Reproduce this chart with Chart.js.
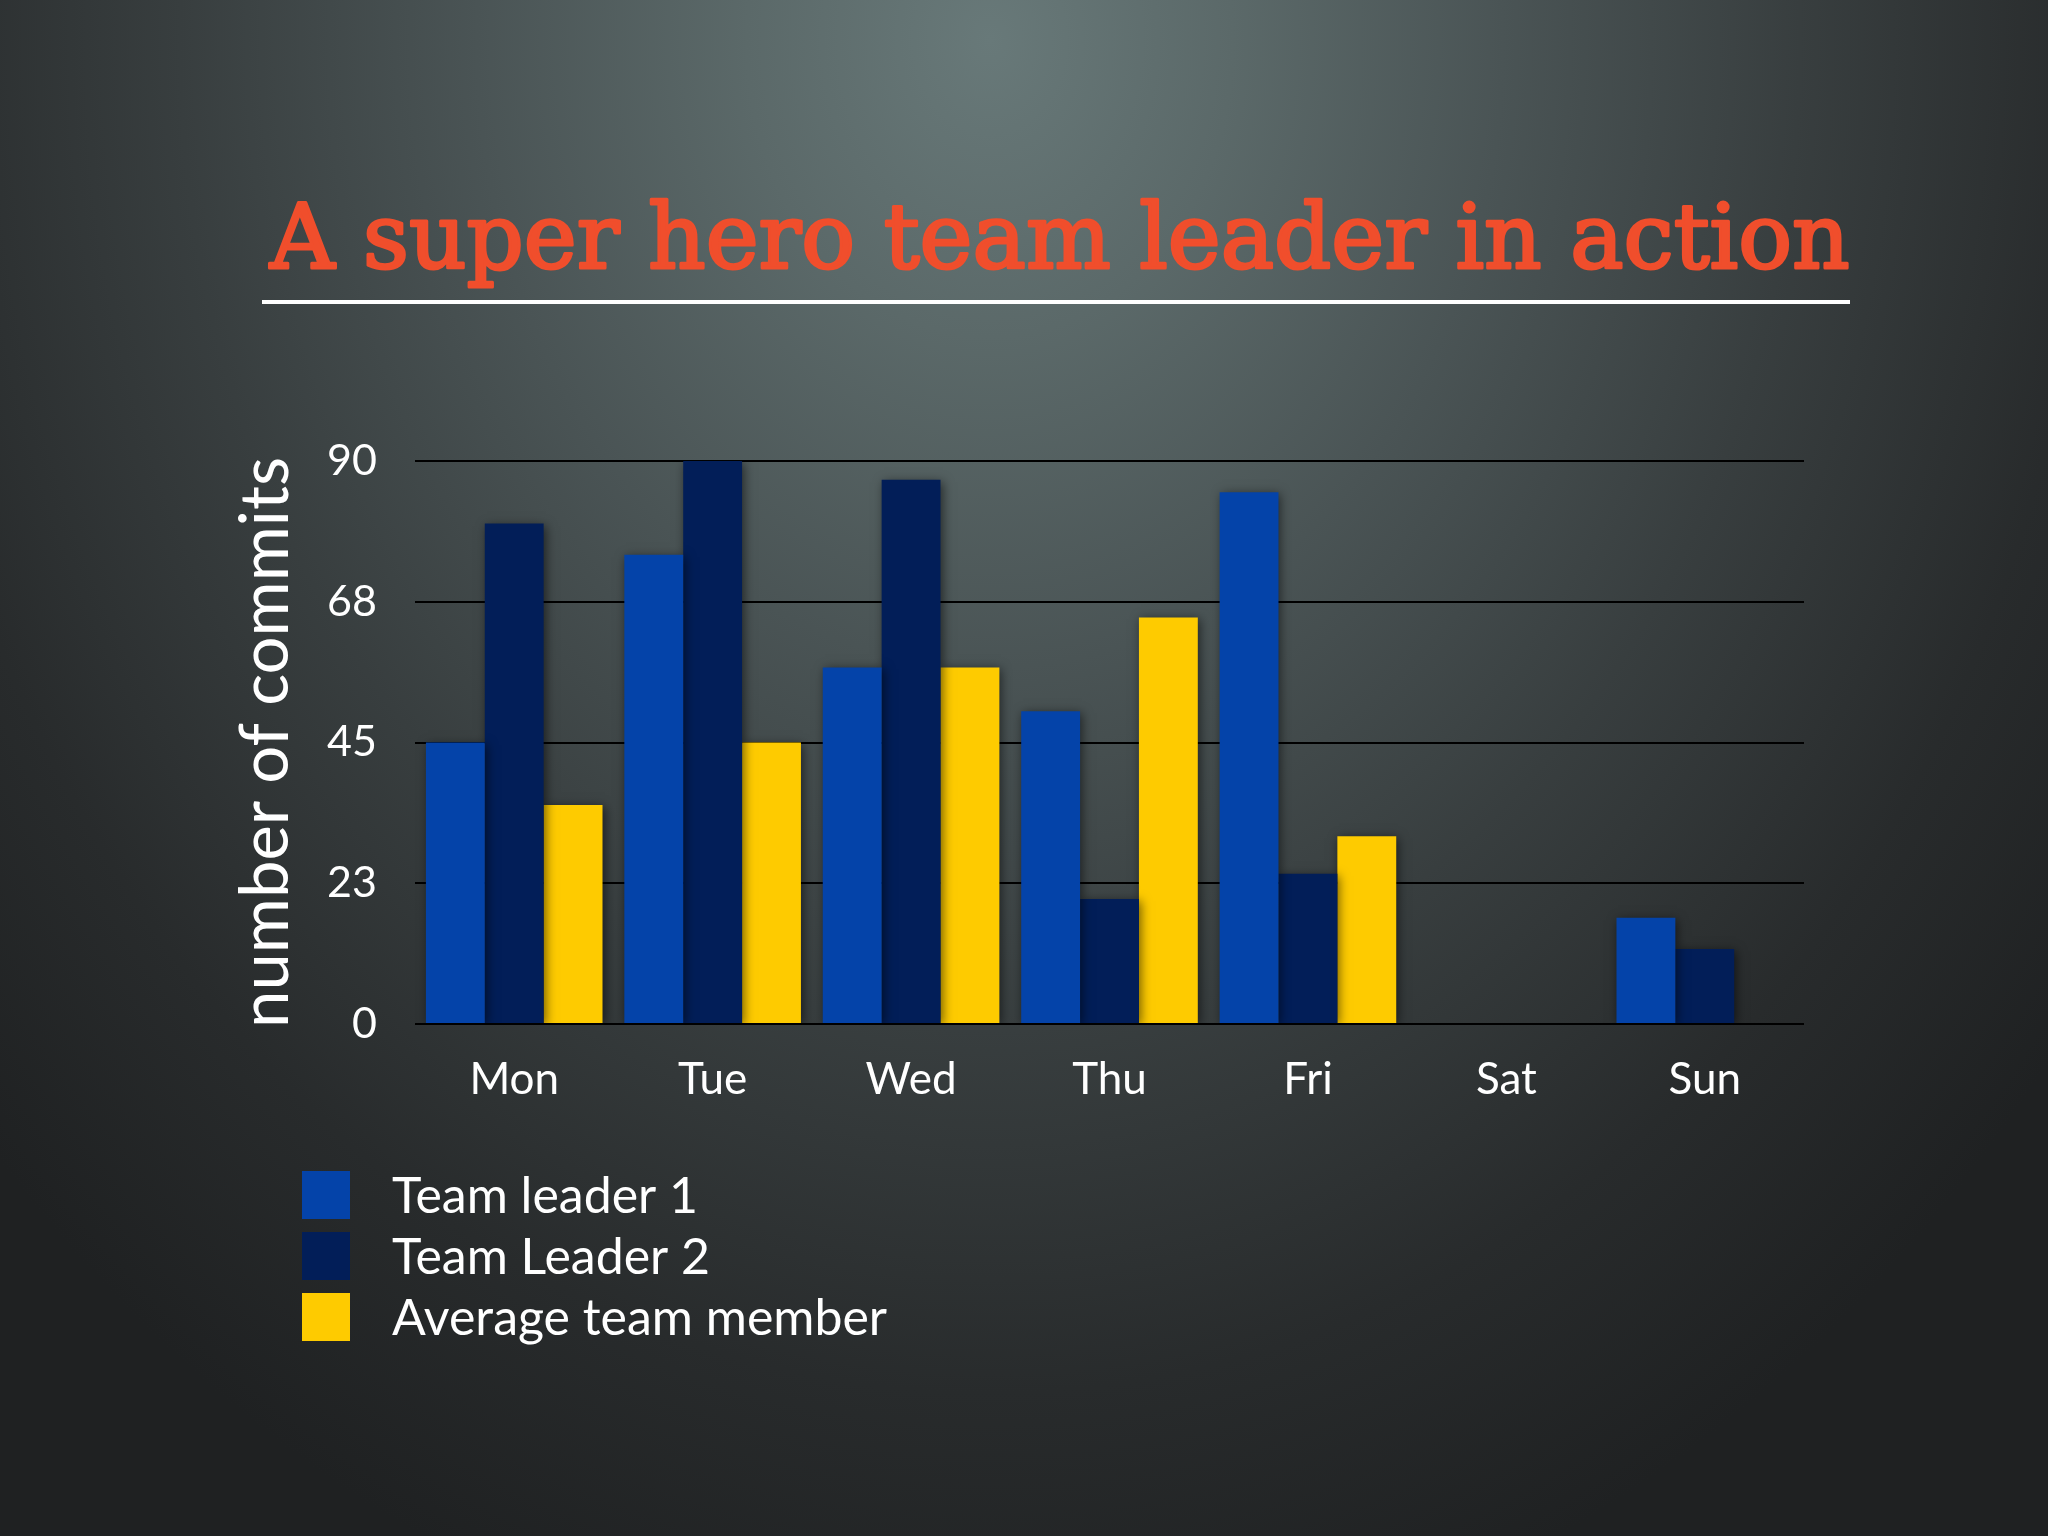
<!DOCTYPE html>
<html>
<head>
<meta charset="utf-8">
<script src="https://cdn.jsdelivr.net/npm/chart.js@4"></script>
<style>
  html, body { margin: 0; padding: 0; }
  body {
    width: 2048px; height: 1536px; overflow: hidden;
    background:
      radial-gradient(ellipse 1350px 1650px at 990px 40px, #687979 0%, #5b6969 18%, #4a5455 38%, #383e3f 60%, #282b2c 82%, #1f2122 100%);
  }
  #wrap { width: 2048px; height: 1536px; position: relative; }
</style>
</head>
<body>
<div id="wrap"><canvas id="chart"></canvas></div>
<script>
// data
let days = ['Mon', 'Tue', 'Wed', 'Thu', 'Fri', 'Sat', 'Sun'];
let leader1 = [45, 75, 57, 50, 85, 0, 17];
let leader2 = [80, 90, 87, 20, 24, 0, 12];
let average = [35, 45, 57, 65, 30, 0, 0];
let tickValues = [0, 22.5, 45, 67.5, 90];
let tickLabels = ['0', '23', '45', '68', '90'];

let titleText = 'A super hero team leader in action';
let labelFont = 'Lato, "Open Sans", sans-serif';

// title + underline across the top
const slideTitle = {
  id: 'slideTitle',
  afterDraw(chart) {
    let c = chart.ctx;
    c.save();
    c.font = '100px "DejaVu Serif"';
    let w = c.measureText(titleText).width;
    let size = 100 * 1580 / w;
    c.font = size + 'px "DejaVu Serif"';
    c.fillStyle = '#f04e2c';
    c.strokeStyle = '#f04e2c';
    c.lineWidth = 3;
    c.lineJoin = 'round';
    c.textBaseline = 'alphabetic';
    c.textAlign = 'left';
    c.fillText(titleText, 270, 268);
    c.strokeText(titleText, 270, 268);
    c.fillStyle = '#ffffff';
    c.fillRect(262, 300, 1588, 4);
    c.restore();
  }
};

// vertical legend bottom-left
const sideLegend = {
  id: 'sideLegend',
  afterDraw(chart) {
    let c = chart.ctx;
    c.save();
    c.font = '50px ' + labelFont;
    c.textBaseline = 'middle';
    chart.data.datasets.forEach((ds, i) => {
      let cy = 1195 + i * 61;
      c.fillStyle = ds.backgroundColor;
      c.fillRect(302, cy - 24, 48, 48);
      c.fillStyle = '#ffffff';
      c.fillText(ds.label, 392, cy + 2);
    });
    c.restore();
  }
};

// soft drop shadow under the bars
const barShadow = {
  id: 'barShadow',
  beforeDatasetsDraw(chart) {
    let c = chart.ctx;
    c.save();
    c.shadowColor = 'rgba(0,0,0,0.55)';
    c.shadowBlur = 10;
    c.shadowOffsetX = 2;
    c.shadowOffsetY = 2;
  },
  afterDatasetsDraw(chart) {
    chart.ctx.restore();
  }
};

let ctx = document.getElementById('chart').getContext('2d');
let chart = new Chart(ctx, {
  type: 'bar',
  data: {
    labels: days,
    datasets: [
      { label: 'Team leader 1', data: leader1, backgroundColor: '#0443a9' },
      { label: 'Team Leader 2', data: leader2, backgroundColor: '#021e58' },
      { label: 'Average team member', data: average, backgroundColor: '#fecb00' }
    ]
  },
  options: {
    responsive: true,
    maintainAspectRatio: false,
    devicePixelRatio: 1,
    animation: false,
    layout: { padding: { left: 226, right: 244, top: 461, bottom: 412 } },
    datasets: { bar: { categoryPercentage: 0.89, barPercentage: 1.0 } },
    plugins: {
      legend: { display: false },
      tooltip: { enabled: false }
    },
    scales: {
      x: {
        grid: { display: false, drawTicks: false },
        border: { display: false },
        ticks: { color: '#ffffff', font: { family: labelFont, size: 44 }, padding: 29 },
        afterFit(scale) { scale.height = 100; }
      },
      y: {
        min: 0,
        max: 90,
        afterBuildTicks(scale) { scale.ticks = tickValues.map(v => ({ value: v })); },
        grid: { color: '#000000', lineWidth: 2, drawTicks: false },
        border: { display: false },
        ticks: {
          color: '#ffffff',
          font: { family: labelFont, size: 43 },
          padding: 38,
          callback(v, i) { return tickLabels[i]; }
        },
        title: {
          display: true,
          text: 'number of commits',
          color: '#ffffff',
          font: { family: labelFont, size: 67 },
          padding: 0
        },
        afterFit(scale) { scale.width = 189; }
      }
    }
  },
  plugins: [barShadow, slideTitle, sideLegend]
});
</script>
</body>
</html>
